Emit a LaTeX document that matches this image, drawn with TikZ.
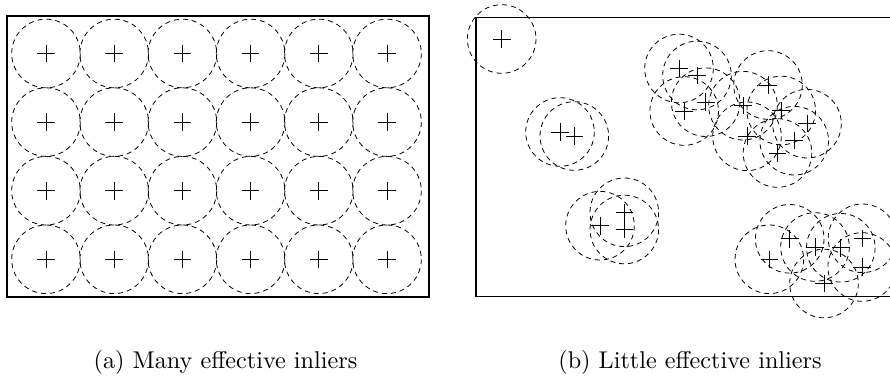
\documentclass[tikz,border=0pt]{standalone}
\begin{document}
\begin{tikzpicture}[x=1pt,y=-1pt,
  ring/.style={draw=black,line width=0.8pt,dash pattern=on 5pt off 4pt},
  crossline/.style={draw=black,line width=0.9pt},
  inlier/.pic={\draw[crossline] (-8.8,0)--(8.8,0) (0,-8.8)--(0,8.8);
               \draw[ring] (0,0) circle (34.3);},
  frameA/.style={draw=black,line width=1.5pt},
  frameB/.style={draw=black,line width=1.1pt},
  captext/.style={anchor=base,scale=2.42,inner sep=0pt}]
\useasboundingbox (0,0) rectangle (890,390);
\begin{scope}
\clip (0,0) rectangle (890,390);
% left panel
\draw[frameA] (7,16) rectangle (429,297);
\foreach \i in {0,...,5}{
  \foreach \j in {0,...,3}{
    \pic at ({46+68.2*\i},{53.5+68.6*\j}) {inlier};
  }
}
% right panel
\draw[frameB] (476,17.3) rectangle (900,296.7);
\foreach \p in {(501.7,39),
  (560,132),(574.3,136),
  (600,225.7),(624.3,212.3),(624.3,229.5),
  (679,68.5),(697,75.5),(684.2,111),(705.7,102.2),(743,105.7),(768,85),
  (781.2,110.5),(747,136.3),(807,123.7),(794.2,140.7),(777.5,153),
  (769.3,259.3),(789.7,238.8),(815,247),(840.8,247.8),(862.5,238.3),
  (862.2,267),(824,283.5)}{
  \pic at \p {inlier};
}
\end{scope}
\node[captext] (capa) at (225.5,368) {(a) Many effective inliers};
\node[captext] (capb) at (690,368) {(b) Little effective inliers};
\end{tikzpicture}
\end{document}
